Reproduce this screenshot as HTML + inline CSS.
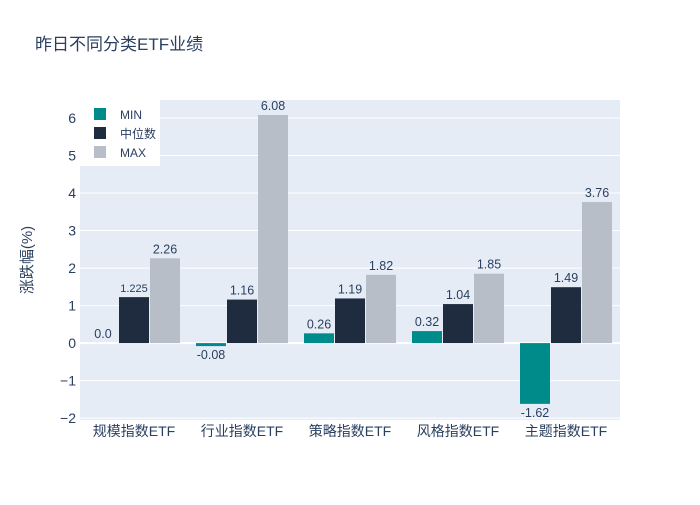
<!DOCTYPE html>
<html><head><meta charset="utf-8"><style>
body{margin:0;background:#fff;font-family:"Liberation Sans","Noto Sans CJK SC",sans-serif}
svg text{font-family:"Liberation Sans","Noto Sans CJK SC",sans-serif}
</style></head><body>
<svg id="c" width="700" height="500" xmlns="http://www.w3.org/2000/svg">
<rect width="700" height="500" fill="#fff"/>
<text x="35" y="50" font-size="17" fill="#2a3f5f">昨日不同分类ETF业绩</text>
<rect x="80" y="100" width="540" height="320" fill="#e5ecf6"/>
<g id="grid"></g><g id="bars"></g><g id="labels"></g><g id="axes"></g>
<text transform="translate(32,260) rotate(-90)" text-anchor="middle" font-size="15" fill="#2a3f5f">涨跌幅(%)</text>
<g id="legend"></g>
</svg>
<script>
const categories=["规模指数ETF","行业指数ETF","策略指数ETF","风格指数ETF","主题指数ETF"];
const minVals=[0.0,-0.08,0.26,0.32,-1.62];
const medVals=[1.225,1.16,1.19,1.04,1.49];
const maxVals=[2.26,6.08,1.82,1.85,3.76];
const minText=["0.0","-0.08","0.26","0.32","-1.62"];
const medText=["1.225","1.16","1.19","1.04","1.49"];
const maxText=["2.26","6.08","1.82","1.85","3.76"];
const yTicks=[-2,-1,0,1,2,3,4,5,6];
const yTickText=["−2","−1","0","1","2","3","4","5","6"];
const seriesNames=["MIN","中位数","MAX"];
const colors=["#008b8b","#1f2b3e","#b8bec7"];
const NS="http://www.w3.org/2000/svg";
const X0=80,W=540,Y0=100,H=320,ymin=-2.05,ymax=6.48;
const y=v=>Y0+(ymax-v)/(ymax-ymin)*H;
const bw=W/categories.length;
const xc=i=>X0+bw*(i+0.5);
function mk(tag,attrs,parent,txt){const e=document.createElementNS(NS,tag);for(const k in attrs)e.setAttribute(k,attrs[k]);if(txt!==undefined)e.textContent=txt;document.getElementById(parent).appendChild(e);return e;}
yTicks.forEach((t,i)=>{
 const g=mk('line',{x1:X0,x2:X0+W,y1:y(t),y2:y(t),stroke:'#fff','stroke-width':t===0?2:1},'grid');
 
 
 const l=mk('text',{x:X0-4,y:y(t)+5,'text-anchor':'end','font-size':14,fill:'#2a3f5f'},'axes',yTickText[i]);
 
 
});
categories.forEach((c,i)=>{
 const l=mk('text',{x:xc(i),y:436,'text-anchor':'middle','font-size':14,fill:'#2a3f5f'},'axes',c);
 
 
});
const series=[minVals,medVals,maxVals],texts=[minText,medText,maxText];
const barW=30,off=[-31,0,31];
series.forEach((vals,s)=>{
 vals.forEach((v,i)=>{
  const cx=xc(i)+off[s];
  const top=Math.min(y(v),y(0)),h=Math.abs(y(v)-y(0));
  const r=mk('rect',{x:cx-barW/2,y:top,width:barW,height:Math.max(h,0),fill:colors[s]},'bars');
  
  
  const txt=texts[s][i];
  const dec=(txt.split('.')[1]||'').length;
  const fs=dec>2?11:12.5;
  const ty=v>=0?y(v)-5:y(v)+13;
  const t=mk('text',{x:cx,y:ty,'text-anchor':'middle','font-size':fs,fill:'#2a3f5f'},'labels',txt);
  
  
 });
});
const lb=mk('rect',{x:80,y:100,width:80,height:66,fill:'#fff'},'legend');


seriesNames.forEach((n,s)=>{
 const yy=114+s*19;
 const sw=mk('rect',{x:94,y:yy-6,width:12,height:12,fill:colors[s]},'legend');
 
 
 const t=mk('text',{x:120,y:yy+5,'font-size':12,fill:'#2a3f5f'},'legend',n);
 
 
});
</script>
</body></html>
